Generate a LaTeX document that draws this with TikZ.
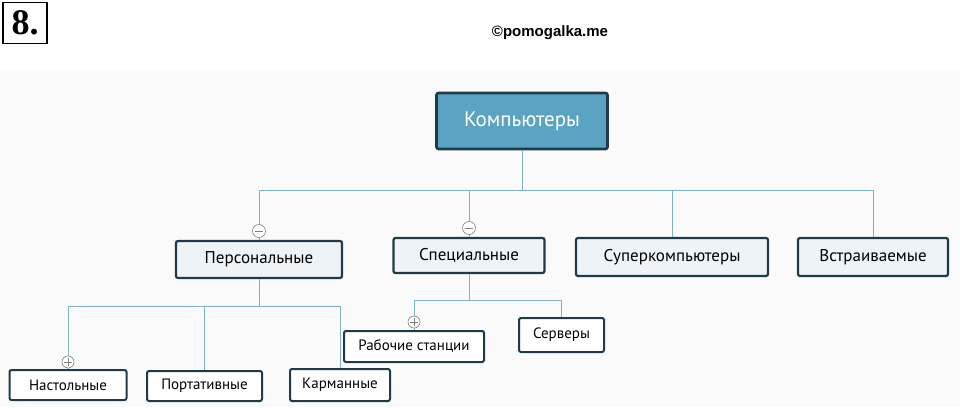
\documentclass[tikz,border=0pt]{standalone}
\usepackage{fontspec}
\setmainfont{PT Sans}
\newfontfamily\headfont{Liberation Sans}
\newfontfamily\numfont{Liberation Serif}
\definecolor{linecol}{HTML}{7FB0CC}
\definecolor{boxedge}{HTML}{1F3B4A}
\definecolor{boxfill}{HTML}{EEF3F8}
\definecolor{rootfill}{HTML}{5AA3C2}
\begin{document}
\begin{tikzpicture}[x=1pt,y=-1pt,
catnode/.style={rectangle, rounded corners=2pt, draw=boxedge, fill=boxfill, line width=2.2pt, inner sep=0pt, font=\fontsize{17}{17}\selectfont},
leafnode/.style={rectangle, rounded corners=2pt, draw=boxedge, fill=white, line width=2pt, inner sep=0pt, font=\fontsize{15}{15}\selectfont},
link/.style={linecol, line width=1pt},
toggle/.style={circle, draw=gray, fill=white, line width=0.6pt, minimum size=13pt, inner sep=0pt},]
	\useasboundingbox (0,0) rectangle (960,407);
	\fill[white] (0,0) rectangle (960,407);
	\fill[black!2] (0,70) rectangle (960,407);

	\node (num) [draw, line width=1.5pt, minimum width=44pt, minimum height=41pt, inner sep=0pt, font=\numfont\bfseries\fontsize{36}{36}\selectfont] at (25,23) {8.};
	\node (site) [font=\headfont\bfseries\fontsize{15}{15}\selectfont] at (550,33) {©pomogalka.me};

	\node (root) [catnode, fill=rootfill, text=white, minimum width=171pt, minimum height=56pt, line width=2.6pt, font=\fontsize{21}{21}\selectfont] at (522,121) {Компьютеры};

	\node (pers) [catnode, minimum width=166pt, minimum height=37pt] at (259,259.5) {Персональные};
	\node (spec) [catnode, minimum width=151pt, minimum height=35pt] at (469,255.5) {Специальные};
	\node (super) [catnode, minimum width=192pt, minimum height=38pt] at (672,257) {Суперкомпьютеры};
	\node (embed) [catnode, minimum width=150pt, minimum height=38pt] at (873,257) {Встраиваемые};

	\node (desk) [leafnode, minimum width=117pt, minimum height=30pt] at (68,385) {Настольные};
	\node (lap) [leafnode, minimum width=115pt, minimum height=30pt] at (204.5,386) {Портативные};
	\node (pocket) [leafnode, minimum width=100pt, minimum height=32pt] at (340,385) {Карманные};
	\node (work) [leafnode, minimum width=140pt, minimum height=31pt] at (414,346.5) {Рабочие станции};
	\node (serv) [leafnode, minimum width=85pt, minimum height=34pt] at (561.5,335) {Серверы};

	% connectors
	\coordinate (bus) at (522,190);
	\draw[link] (root.south) -- (bus);
	\foreach \n in {pers,spec,super,embed}
		\draw[link] (bus) -| (\n.north);
	\coordinate (pbus) at (259,306);
	\draw[link] (pers.south) -- (pbus);
	\foreach \n in {desk,lap,pocket}
		\draw[link] (pbus) -| (\n.north);
	\coordinate (sbus) at (469,300);
	\draw[link] (spec.south) -- (sbus);
	\foreach \n in {work,serv}
		\draw[link] (sbus) -| (\n.north);

	% toggles
	\foreach \n/\x/\y in {tgpers/259/231,tgspec/469/228} {
		\node (\n) [toggle] at (\x,\y) {};
		\draw[gray, line width=1pt] ([xshift=2.5pt]\n.west) -- ([xshift=-2.5pt]\n.east);
	}
	\foreach \n/\x/\y in {tgdesk/68/362,tgwork/414/322} {
		\node (\n) [toggle, minimum size=12pt] at (\x,\y) {};
		\draw[gray, line width=0.8pt] ([xshift=2pt]\n.west) -- ([xshift=-2pt]\n.east) ([yshift=-2pt]\n.north) -- ([yshift=2pt]\n.south);
	}
\end{tikzpicture}
\end{document}
